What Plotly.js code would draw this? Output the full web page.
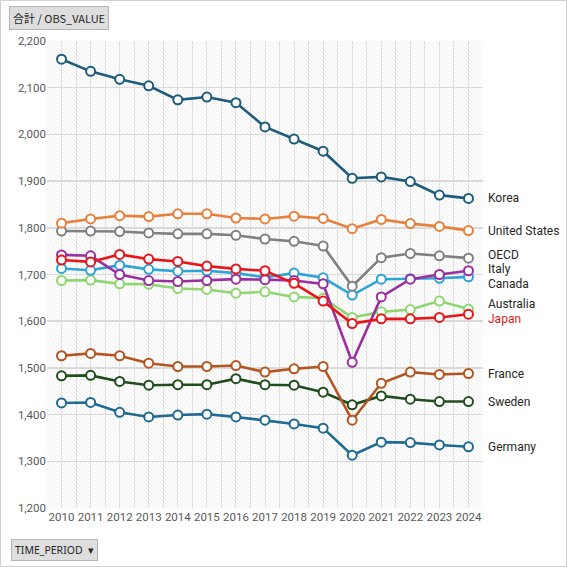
<!DOCTYPE html>
<html>
<head>
<meta charset="utf-8">
<script src="https://cdn.plot.ly/plotly-3.0.1.min.js"></script>
<style>
  html, body { margin: 0; padding: 0; background: #fff; }
  #chart { width: 567px; height: 567px; }
</style>
</head>
<body>
<div id="chart"></div>
<script>
// hours worked per year
var years = [2010, 2011, 2012, 2013, 2014, 2015, 2016, 2017, 2018, 2019, 2020, 2021, 2022, 2023, 2024];

var korea     = [2161, 2135, 2118, 2104, 2074, 2080, 2068, 2016, 1990, 1964, 1906, 1909, 1899, 1870, 1863];
var usa       = [1810, 1819, 1826, 1824, 1830, 1830, 1821, 1819, 1825, 1820, 1798, 1818, 1809, 1803, 1794];
var oecd      = [1793, 1793, 1792, 1789, 1787, 1787, 1784, 1776, 1771, 1761, 1675, 1736, 1745, 1740, 1735];
var italy     = [1742, 1740, 1700, 1687, 1685, 1687, 1690, 1689, 1687, 1680, 1512, 1652, 1690, 1700, 1708];
var canada    = [1713, 1709, 1720, 1711, 1707, 1708, 1703, 1694, 1703, 1693, 1656, 1690, 1691, 1692, 1695];
var australia = [1687, 1688, 1680, 1679, 1670, 1668, 1660, 1663, 1652, 1649, 1608, 1620, 1625, 1643, 1626];
var japan     = [1731, 1727, 1743, 1733, 1728, 1718, 1712, 1708, 1681, 1643, 1595, 1605, 1605, 1608, 1615];
var france    = [1526, 1531, 1526, 1510, 1503, 1503, 1505, 1491, 1498, 1503, 1388, 1467, 1491, 1486, 1488];
var sweden    = [1483, 1484, 1471, 1463, 1464, 1464, 1477, 1464, 1463, 1448, 1421, 1440, 1433, 1428, 1428];
var germany   = [1425, 1426, 1405, 1395, 1399, 1401, 1395, 1388, 1380, 1371, 1313, 1341, 1340, 1335, 1331];

var seriesNames = ["Korea", "United States", "OECD", "Italy", "Canada", "Australia", "Japan", "France", "Sweden", "Germany"];
var seriesData  = [korea, usa, oecd, italy, canada, australia, japan, france, sweden, germany];
var colors = ["#1d5c7b", "#e8803c", "#808080", "#9b2f9f", "#2ea3d5", "#8fd672", "#e8151b", "#b4541e", "#1f4d1c", "#1f6a92"];
// nudge crowded end labels apart (pixels)
var labelShift = {"OECD": 3, "Italy": 2, "Canada": -7, "Australia": 5, "Japan": -5};

// drawing order: later traces on top
var order = [8, 9, 7, 5, 4, 3, 6, 2, 1, 0];

var data = order.map(function (i) {
    return {
        x: years,
        y: seriesData[i],
        name: seriesNames[i],
        type: "scatter",
        mode: "lines+markers",
        line: {color: colors[i], width: 2.6},
        marker: {symbol: "circle", size: 9, color: "#ffffff", line: {color: colors[i], width: 2}},
        hoverinfo: "x+y+name"
    };
});

var annotations = seriesNames.map(function (name, i) {
    var ys = seriesData[i];
    return {
        x: 1, xref: "paper", xanchor: "left", xshift: 3,
        y: ys[ys.length - 1], yref: "y", yanchor: "middle",
        yshift: labelShift[name] || 0,
        text: name, showarrow: false,
        font: {family: "Roboto, sans-serif", size: 12, color: name === "Japan" ? "#e8151b" : "#262626"}
    };
});

// pivot field buttons
var L = 47, T = 41, W = 436, H = 467;
function px(x) { return (x - L) / W; }
function py(y) { return (T + H - y) / H; }

annotations.push({
    x: px(9), y: py(18), xref: "paper", yref: "paper", xanchor: "left", yanchor: "middle",
    text: "合計 / OBS_VALUE", showarrow: false,
    font: {family: "Noto Sans CJK JP, sans-serif", size: 11, color: "#262626"},
    bgcolor: "#dedede", bordercolor: "#b5b5b5", borderwidth: 1, borderpad: 3
});
annotations.push({
    x: px(11), y: py(550), xref: "paper", yref: "paper", xanchor: "left", yanchor: "middle",
    text: "TIME_PERIOD  ▾", showarrow: false,
    font: {family: "Noto Sans, sans-serif", size: 10.5, color: "#262626"},
    bgcolor: "#dedede", bordercolor: "#b5b5b5", borderwidth: 1, borderpad: 3
});

var hatch = "<svg xmlns='http://www.w3.org/2000/svg' width='436' height='467'>" +
    "<defs><pattern id='p' width='4' height='4' patternUnits='userSpaceOnUse'>" +
    "<path d='M0,0 L4,4 M-1,3 L1,5 M3,-1 L5,1' stroke='#e8e8e8' stroke-width='0.8'/></pattern></defs>" +
    "<rect width='100%' height='100%' fill='url(#p)'/></svg>";

var layout = {
    width: 567,
    height: 567,
    margin: {l: L, r: 567 - L - W, t: T, b: 567 - T - H},
    paper_bgcolor: "#ffffff",
    plot_bgcolor: "rgba(0,0,0,0)",
    showlegend: false,
    font: {family: "Roboto, sans-serif", color: "#595959"},
    xaxis: {
        range: [2009.5, 2024.5],
        tickmode: "array",
        tickvals: years,
        ticktext: years.map(String),
        tickfont: {size: 11.5, color: "#595959"},
        showgrid: true,
        gridcolor: "#e0e0e0",
        gridwidth: 1,
        minor: {tickmode: "linear", tick0: 2009.5, dtick: 1, showgrid: true, gridcolor: "#e0e0e0", gridwidth: 1},
        zeroline: false,
        showline: false,
        ticks: "",
        fixedrange: true
    },
    yaxis: {
        range: [1200, 2200],
        dtick: 100,
        tickformat: ",d",
        tickfont: {size: 11.5, color: "#595959"},
        showgrid: true,
        gridcolor: "#dadada",
        gridwidth: 1.5,
        zeroline: false,
        showline: false,
        ticks: "",
        fixedrange: true
    },
    images: [{
        source: "data:image/svg+xml;charset=utf-8," + encodeURIComponent(hatch),
        xref: "paper", yref: "paper",
        x: 0, y: 1, sizex: 1, sizey: 1,
        xanchor: "left", yanchor: "top",
        sizing: "stretch", layer: "below"
    }],
    shapes: [{
        type: "rect", xref: "paper", yref: "paper",
        x0: px(0.5), x1: px(566.5), y0: py(566.5), y1: py(0.5),
        line: {color: "#d0d0d0", width: 1}
    }],
    annotations: annotations
};

Plotly.newPlot("chart", data, layout, {displayModeBar: false, staticPlot: true});
</script>
</body>
</html>
